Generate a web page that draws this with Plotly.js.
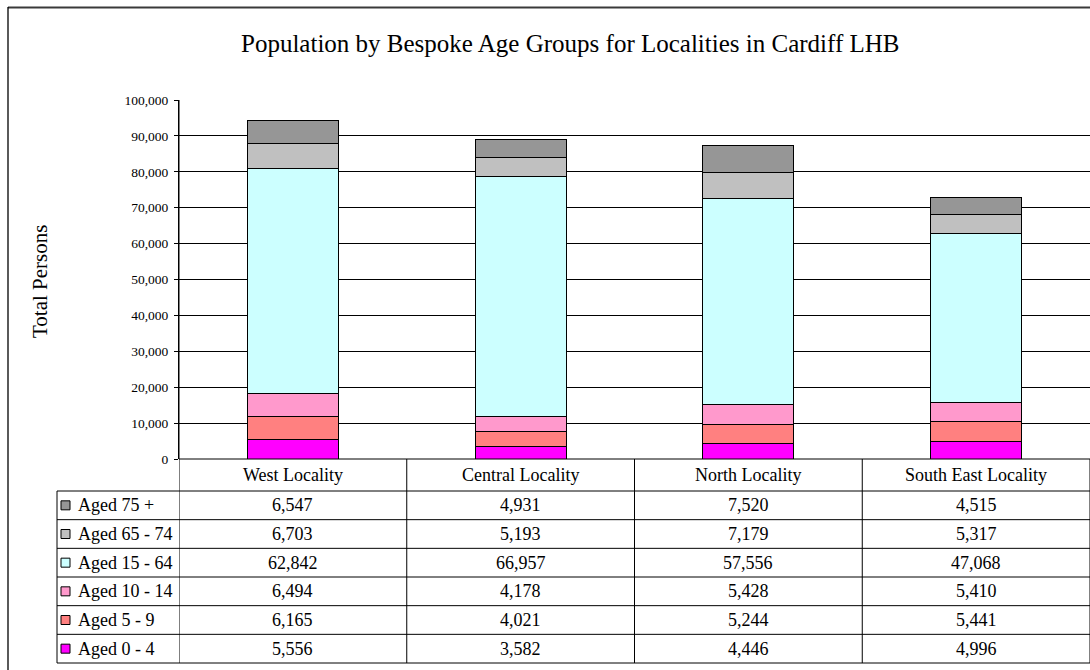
<!DOCTYPE html>
<html>
<head>
<meta charset="utf-8">
<script src="https://cdn.plot.ly/plotly-3.0.1.min.js"></script>
<style>html,body{margin:0;padding:0;background:#fff;}#chart{width:1090px;height:670px;}</style>
</head>
<body>
<div id="chart"></div>
<script>
// ---- Data ----
const categories = ['West Locality', 'Central Locality', 'North Locality', 'South East Locality'];
const seriesNames = ['Aged 0 - 4', 'Aged 5 - 9', 'Aged 10 - 14', 'Aged 15 - 64', 'Aged 65 - 74', 'Aged 75 +'];
const aged0to4   = [5556, 3582, 4446, 4996];
const aged5to9   = [6165, 4021, 5244, 5441];
const aged10to14 = [6494, 4178, 5428, 5410];
const aged15to64 = [62842, 66957, 57556, 47068];
const aged65to74 = [6703, 5193, 7179, 5317];
const aged75plus = [6547, 4931, 7520, 4515];
const seriesColors = ['#FF00FF', '#FF8080', '#FF99CC', '#CCFFFF', '#C0C0C0', '#969696'];
const yTickVals = [0, 10000, 20000, 30000, 40000, 50000, 60000, 70000, 80000, 90000, 100000];

const seriesValues = [aged0to4, aged5to9, aged10to14, aged15to64, aged65to74, aged75plus];

// ---- Layout geometry (pixels) ----
const W = 1090, H = 670;
const L = 179, T = 100, B0 = 459; // plot left, top, bottom (y = 0)
const PW = W - L, PH = B0 - T;
const px = p => (p - L) / PW;       // pixel x -> paper
const py = p => (B0 - p) / PH;      // pixel y -> paper
const FONT = '"Liberation Serif", "Times New Roman", serif';

const traces = seriesValues.map((vals, i) => ({
  type: 'bar',
  name: seriesNames[i],
  x: categories,
  y: vals,
  width: 0.4,
  marker: {color: seriesColors[i], line: {color: '#000', width: 1}},
  hoverinfo: 'x+y+name'
}));

const shapes = [];
const annotations = [];

// Outer chart frame
shapes.push({type: 'line', xref: 'paper', yref: 'paper', x0: px(8), x1: px(W + 5), y0: py(7.5), y1: py(7.5), line: {color: '#3a3a3a', width: 2}});
shapes.push({type: 'line', xref: 'paper', yref: 'paper', x0: px(8), x1: px(8), y0: py(7), y1: py(H + 5), line: {color: '#000', width: 1.3}});

// Table geometry
const headerTop = B0, headerBot = 491;
const rowH = (663 - 491) / 6;
const legendLeft = 57;
const catCount = categories.length;

// Vertical lines between categories (x in category units via axis)
for (let k = 0; k <= catCount; k++) {
  shapes.push({type: 'line', xref: 'x', yref: 'paper', x0: k - 0.5, x1: k - 0.5,
    y0: py(k === 0 ? T : headerTop), y1: py(663), line: {color: '#000', width: 1}});
}
// Legend column left border
shapes.push({type: 'line', xref: 'paper', yref: 'paper', x0: px(legendLeft), x1: px(legendLeft), y0: py(headerBot), y1: py(663), line: {color: '#000', width: 1}});
// Horizontal lines
shapes.push({type: 'line', xref: 'paper', yref: 'paper', x0: px(L), x1: px(W + 5), y0: py(headerTop), y1: py(headerTop), line: {color: '#000', width: 1}});
for (let r = 0; r <= 6; r++) {
  const yy = headerBot + r * rowH;
  shapes.push({type: 'line', xref: 'paper', yref: 'paper', x0: px(legendLeft), x1: px(W + 5), y0: py(yy), y1: py(yy), line: {color: '#000', width: 1}});
}

// Header labels
categories.forEach(c => {
  annotations.push({xref: 'x', yref: 'paper', x: c, y: py((headerTop + headerBot) / 2), text: c, showarrow: false,
    xanchor: 'center', yanchor: 'middle', font: {family: FONT, size: 18, color: '#000'}});
});

// Table rows: top to bottom = 75+ ... 0-4
const fmt = v => v.toLocaleString('en-US');
for (let r = 0; r < 6; r++) {
  const si = 5 - r;
  const yc = headerBot + (r + 0.5) * rowH;
  // swatch
  shapes.push({type: 'rect', xref: 'paper', yref: 'paper', x0: px(61), x1: px(70), y0: py(yc - 4.5), y1: py(yc + 4.5),
    fillcolor: seriesColors[si], line: {color: '#000', width: 1}});
  annotations.push({xref: 'paper', yref: 'paper', x: px(76), y: py(yc), text: seriesNames[si], showarrow: false,
    xanchor: 'left', yanchor: 'middle', font: {family: FONT, size: 18, color: '#000'}});
  categories.forEach((c, j) => {
    annotations.push({xref: 'x', yref: 'paper', x: c, y: py(yc), text: fmt(seriesValues[si][j]), showarrow: false,
      xanchor: 'center', yanchor: 'middle', font: {family: FONT, size: 18, color: '#000'}});
  });
}

// Y axis title
annotations.push({xref: 'paper', yref: 'paper', x: px(40), y: py(282), text: 'Total Persons', textangle: -90, showarrow: false,
  xanchor: 'center', yanchor: 'middle', font: {family: FONT, size: 21, color: '#000'}});

// Chart title
annotations.push({xref: 'paper', yref: 'paper', x: px(570), y: py(44), text: 'Population by Bespoke Age Groups for Localities in Cardiff LHB',
  showarrow: false, xanchor: 'center', yanchor: 'middle', font: {family: FONT, size: 25, color: '#000'}});

const layout = {
  width: W, height: H,
  margin: {l: L, r: 0, t: T, b: H - B0, pad: 0},
  paper_bgcolor: '#fff', plot_bgcolor: '#fff',
  barmode: 'stack',
  showlegend: false,
  font: {family: FONT},
  xaxis: {type: 'category', categoryorder: 'array', categoryarray: categories, range: [-0.5, catCount - 0.5],
    showticklabels: false, showgrid: false, zeroline: false, showline: false, ticks: '', fixedrange: true},
  yaxis: {range: [0, 100000], tickvals: yTickVals, ticktext: yTickVals.map(fmt),
    showgrid: true, gridcolor: '#000', gridwidth: 1, zeroline: false,
    showline: true, linecolor: '#000', linewidth: 1, ticks: 'outside', ticklen: 4, tickcolor: '#000',
    tickfont: {family: FONT, size: 13.5, color: '#000'}, ticklabelstandoff: 3, fixedrange: true},
  shapes: shapes,
  annotations: annotations
};

Plotly.newPlot('chart', traces, layout, {displayModeBar: false, staticPlot: true});
</script>
</body>
</html>
